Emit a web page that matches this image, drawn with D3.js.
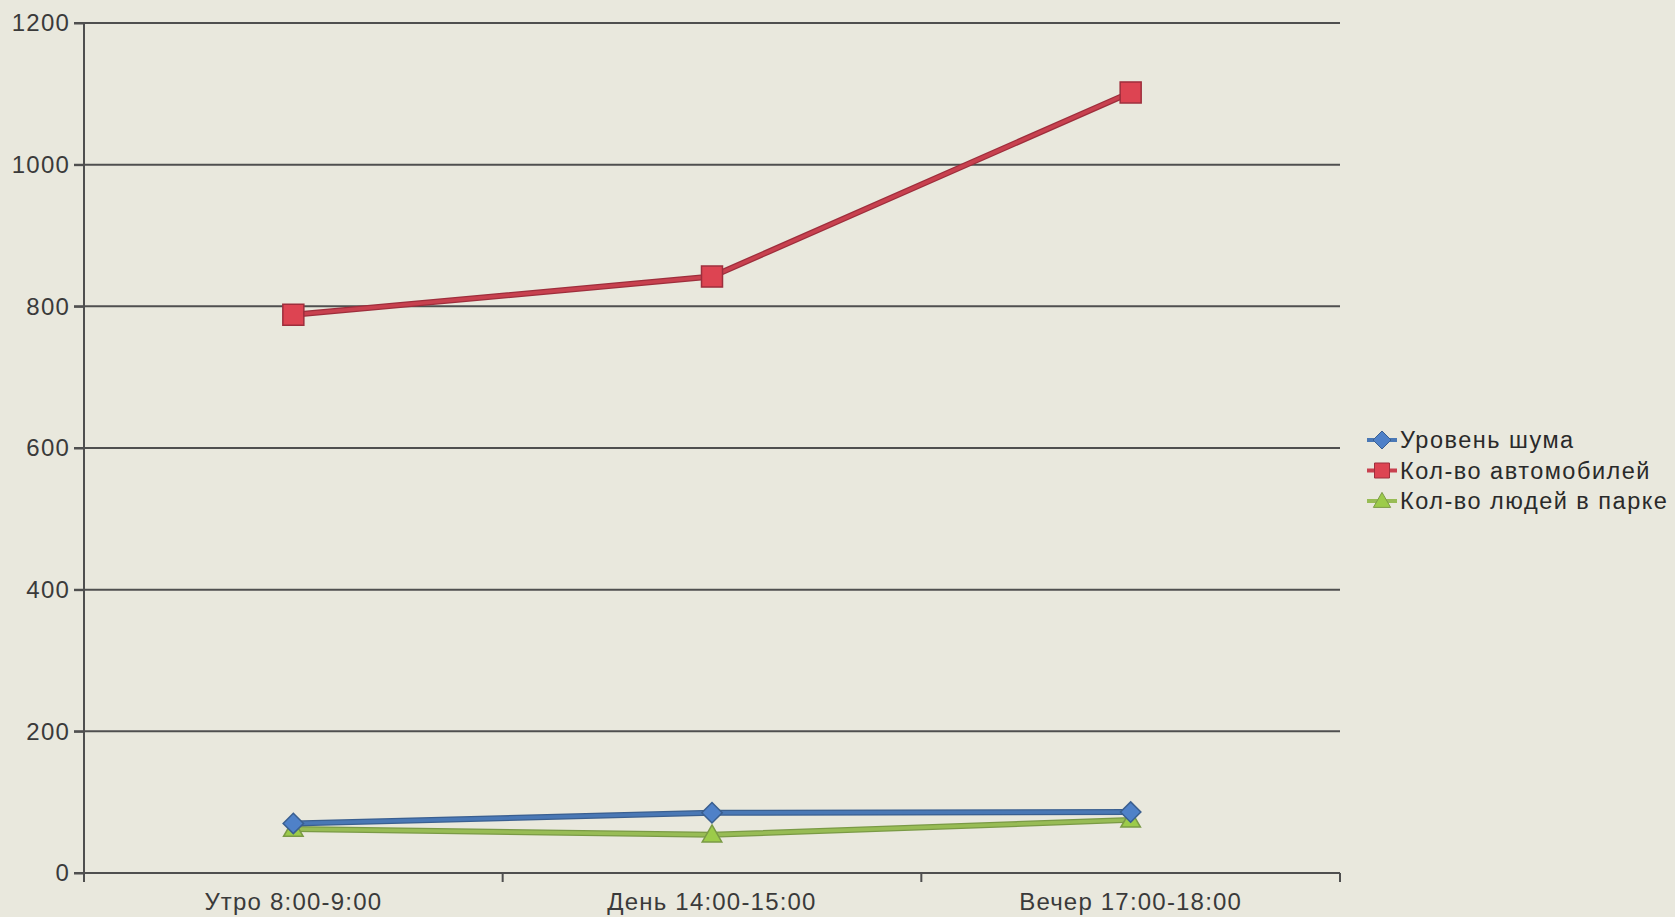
<!DOCTYPE html>
<html><head><meta charset="utf-8">
<script src="https://cdn.jsdelivr.net/npm/d3@7"></script>
<style>html,body{margin:0;padding:0;background:#E9E8DD;}svg{display:block;}</style>
</head><body>
<svg id="c" width="1675" height="917"></svg>
<script>
const categories = ["Утро 8:00-9:00", "День 14:00-15:00", "Вечер 17:00-18:00"];
const seriesNames = ["Уровень шума", "Кол-во автомобилей", "Кол-во людей в парке"];
const noise = [70, 85, 86];
const cars = [788, 842, 1102];
const people = [62, 54, 75];
const yTicks = [0, 200, 400, 600, 800, 1000, 1200];

(function () {
const series = [
  {name: seriesNames[0], values: noise, line: "#4A78B5", edge: "#3A5F90", fill: "#4F81C8", marker: "diamond"},
  {name: seriesNames[1], values: cars, line: "#C8414F", edge: "#9E2E3C", fill: "#DD4452", marker: "square"},
  {name: seriesNames[2], values: people, line: "#98BC55", edge: "#7A9A45", fill: "#9CCB4A", marker: "triangle"}
];

const svg = d3.select("#c");
const mLeft = 84, mRight = 1340, mTop = 23, mBottom = 873;
const x = d3.scaleBand().domain(categories).range([mLeft, mRight]);
const y = d3.scaleLinear().domain([0, 1200]).range([mBottom, mTop]);

// gridlines
svg.append("g").selectAll("line").data(yTicks).join("line")
  .attr("x1", mLeft - 10).attr("x2", mRight)
  .attr("y1", d => y(d)).attr("y2", d => y(d))
  .attr("stroke", "#4F4F4F").attr("stroke-width", 2);

// y axis
const yAxis = svg.append("g").attr("transform", `translate(${mLeft},0)`)
  .call(d3.axisLeft(y).tickValues(yTicks).tickSize(10).tickPadding(4).tickFormat(d3.format("d")));
yAxis.select(".domain").attr("stroke", "#4F4F4F").attr("stroke-width", 2).attr("d", `M0,${mTop}V${mBottom + 9}`);
yAxis.selectAll(".tick line").attr("stroke", "#4F4F4F").attr("stroke-width", 2);
yAxis.selectAll(".tick text").attr("font-family", "Liberation Sans, Arial, sans-serif")
  .attr("font-size", 24).attr("fill", "#3A3A3A").attr("letter-spacing", 1.2);

// x axis
const xAxis = svg.append("g").attr("transform", `translate(0,${mBottom})`)
  .call(d3.axisBottom(x).tickSize(0).tickPadding(20));
xAxis.select(".domain").remove();
svg.append("line").attr("x1", mLeft).attr("x2", mRight).attr("y1", mBottom).attr("y2", mBottom)
  .attr("stroke", "#4F4F4F").attr("stroke-width", 2);
const bounds = categories.map(c => x(c)).concat([x(categories[categories.length - 1]) + x.bandwidth()]);
svg.append("g").selectAll("line").data(bounds).join("line")
  .attr("x1", d => d).attr("x2", d => d).attr("y1", mBottom).attr("y2", mBottom + 9)
  .attr("stroke", "#4F4F4F").attr("stroke-width", 2);
xAxis.selectAll(".tick text").attr("font-family", "Liberation Sans, Arial, sans-serif")
  .attr("font-size", 24).attr("fill", "#3A3A3A").attr("dy", "0.71em").attr("letter-spacing", 1.2);

const cx = c => x(c) + x.bandwidth() / 2;

function markerPath(type, s) {
  if (type === "square") return `M${-s},${-s}H${s}V${s}H${-s}Z`;
  if (type === "diamond") return `M0,${-s * 1.2}L${s * 1.2},0L0,${s * 1.2}L${-s * 1.2},0Z`;
  return `M0,${-s * 1.15}L${s * 1.15},${s * 0.85}L${-s * 1.15},${s * 0.85}Z`;
}

const line = d3.line().x((d, i) => cx(categories[i])).y(d => y(d));
const draw = [series[2], series[0], series[1]];
draw.forEach(s => {
  svg.append("path").attr("d", line(s.values)).attr("fill", "none")
    .attr("stroke", s.edge).attr("stroke-width", 6).attr("stroke-linejoin", "round");
  svg.append("path").attr("d", line(s.values)).attr("fill", "none")
    .attr("stroke", s.line).attr("stroke-width", 3.5).attr("stroke-linejoin", "round");
});
draw.forEach(s => {
  const sz = s.marker === "square" ? 10.5 : 8.5;
  svg.append("g").selectAll("path").data(s.values).join("path")
    .attr("transform", (d, i) => `translate(${cx(categories[i])},${y(d)})`)
    .attr("d", markerPath(s.marker, sz))
    .attr("fill", s.fill).attr("stroke", s.edge).attr("stroke-width", 1.5);
});

// legend
const lg = svg.append("g").attr("transform", "translate(1367,440)");
series.forEach((s, i) => {
  const g = lg.append("g").attr("transform", `translate(0,${i * 30.5})`);
  g.append("line").attr("x1", 0).attr("x2", 30).attr("y1", 0).attr("y2", 0)
    .attr("stroke", s.line).attr("stroke-width", 4);
  g.append("path").attr("transform", "translate(15,0)").attr("d", markerPath(s.marker, 7.5))
    .attr("fill", s.fill).attr("stroke", s.edge).attr("stroke-width", 1);
  g.append("text").attr("x", 33).attr("y", 0).attr("dy", "0.35em")
    .attr("font-family", "Liberation Sans, Arial, sans-serif").attr("font-size", 23.5)
    .attr("letter-spacing", 1.5)
    .attr("fill", "#2A2A2A").text(s.name);
});
})();
</script>
</body></html>
